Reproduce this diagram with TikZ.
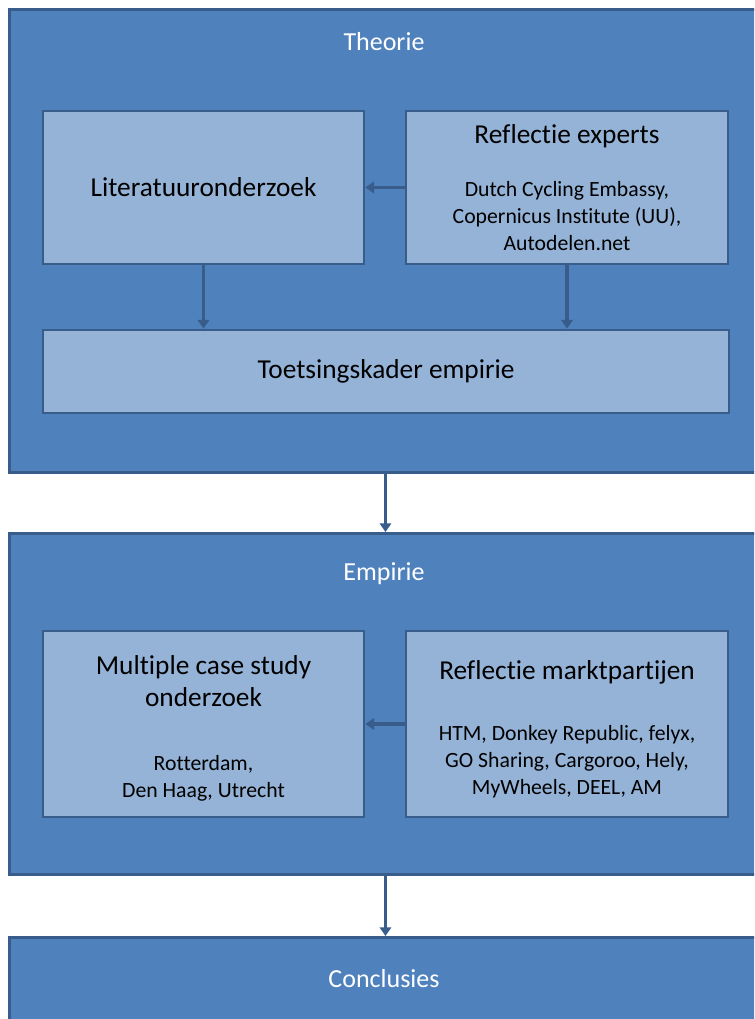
\documentclass[tikz,border=0pt]{standalone}
\usepackage{fontspec}
\setmainfont{Carlito}[RawFeature=-liga]
\usepackage{tikz}
\usetikzlibrary{arrows.meta,positioning,calc}
\usepackage{xcolor}
\definecolor{outerblue}{HTML}{4F81BD}
\definecolor{innerblue}{HTML}{95B3D7}
\definecolor{edgeblue}{HTML}{385D8A}
\newcommand{\lbl}{\fontsize{20.5}{25}\selectfont}
\newcommand{\sml}{\fontsize{16.3}{20}\selectfont}

\begin{document}
\begin{tikzpicture}[x=0.75pt, y=-0.75pt, every node/.style={font=\sml}]
\tikzset{phase/.style={draw=edgeblue, line width=2.2pt, fill=outerblue, minimum width=564pt, inner sep=0pt, anchor=north west}}
\tikzset{ptitle/.style={text=white, font=\fontsize{19.5}{23}\selectfont}}
\tikzset{blk/.style={draw=edgeblue, line width=2pt, fill=innerblue, inner sep=0pt, align=center, text=black}}
\tikzset{flow/.style={draw=edgeblue, line width=2.4pt, -{Triangle[width=8.5pt,length=6.5pt]}}}
\useasboundingbox (0,0) rectangle (754,1019);
\clip (0,0) rectangle (754,1019);
\fill[white] (0,0) rectangle (754,1019);
% fasen
\node[phase, minimum height=347pt] (theorie) at (8,8) {};
\node[phase, minimum height=256pt] (empirie) at (8,532) {};
\node[phase, minimum height=80pt] (concl) at (8,936) {};
\node[ptitle] (ttheorie) at (384,42) {Theorie};
\node[ptitle] (tempirie) at (384,574) {Empirie};
\node[ptitle] (tconcl) at (384,979) {Conclusies};
% theorie
\node[blk, minimum width=240.75pt, minimum height=114.75pt] (lit) at (203.5,187.5)
  {\lbl Literatuuronderzoek};
\node[blk, minimum width=241.5pt, minimum height=114.75pt] (exp) at (567,187.5)
  {\lbl Reflectie experts\\[20pt]
   \sml Dutch Cycling Embassy,\\ \sml Copernicus Institute (UU),\\ \sml Autodelen.net};
\node[blk, minimum width=514.5pt, minimum height=62.25pt] (toets) at (386,371.5)
  {\lbl Toetsingskader empirie};
% empirie
\node[blk, minimum width=240.75pt, minimum height=139.5pt] (mcs) at (203.5,724)
  {\lbl\rule{0pt}{21pt}Multiple case study\\[4pt] \lbl onderzoek\\[28pt]
   \sml Rotterdam,\\ \sml Den Haag, Utrecht};
\node[blk, minimum width=241.5pt, minimum height=139.5pt] (markt) at (567,724)
  {\lbl\rule{0pt}{22pt}Reflectie marktpartijen\\[26pt]
   \sml HTM, Donkey Republic, felyx,\\ \sml GO Sharing, Cargoroo, Hely,\\ \sml MyWheels, DEEL, AM};
% pijlen
\draw[flow] (exp.west) -- (lit.east);
\draw[flow] (lit.south) -- (lit.south |- toets.north);
\draw[flow] (exp.south) -- (exp.south |- toets.north);
\draw[flow] (theorie.south) -- (empirie.north);
\draw[flow] (markt.west) -- (mcs.east);
\draw[flow] (empirie.south) -- (concl.north);
\end{tikzpicture}
\end{document}
